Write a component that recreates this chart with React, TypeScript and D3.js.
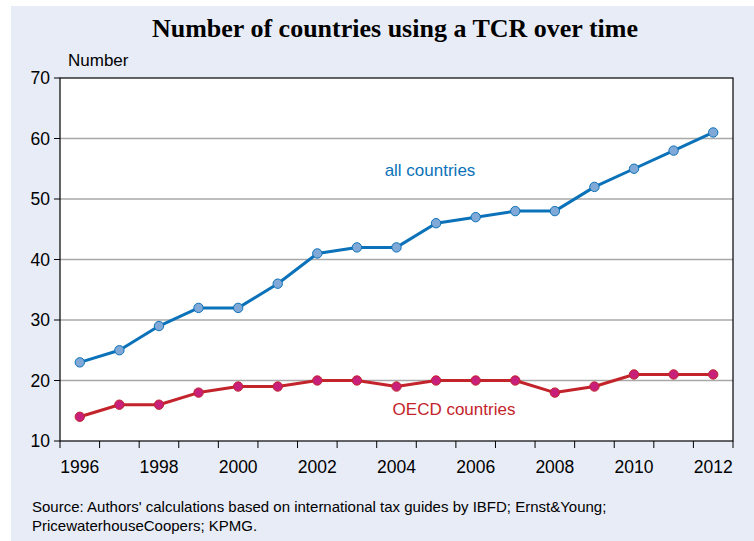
import React from 'react';
import * as d3 from 'd3';

const years = d3.range(1996, 2013).map(String);
const allCountries = [23, 25, 29, 32, 32, 36, 41, 42, 42, 46, 47, 48, 48, 52, 55, 58, 61];
const oecdCountries = [14, 16, 16, 18, 19, 19, 20, 20, 19, 20, 20, 20, 18, 19, 21, 21, 21];
const yTicks = [10, 20, 30, 40, 50, 60, 70];
const xLabels = ['1996', '1998', '2000', '2002', '2004', '2006', '2008', '2010', '2012'];

const W = 754;
const H = 541;
const margin = { top: 78, right: 21, bottom: 100, left: 60 };

export default function App() {
  const x = d3.scaleBand<string>()
    .domain(years)
    .range([margin.left, W - margin.right]);
  const y = d3.scaleLinear()
    .domain([10, 70])
    .range([H - margin.bottom, margin.top]);

  const line = d3.line<number>()
    .x((_, i) => x(years[i])! + x.bandwidth() / 2)
    .y(d => y(d));

  const series = [
    { values: allCountries, stroke: '#0b72b9', fill: '#80a9d7' },
    { values: oecdCountries, stroke: '#c3242b', fill: '#c71f7a' },
  ];

  const font = 'Liberation Sans, Arial, sans-serif';
  const x0 = margin.left;
  const x1 = W - margin.right;
  const yb = H - margin.bottom;

  return (
    <svg width={W} height={H} style={{ position: 'absolute', left: 0, top: 0 }} fontFamily={font}>
      <rect x={0} y={0} width={W} height={H} fill="#fff" />
      <rect x={11} y={6} width={W - 11} height={H - 6} fill="#e8ecf7" />
      <text x={395} y={37} textAnchor="middle" fontFamily="Liberation Serif, Times New Roman, serif"
        fontWeight="bold" fontSize={26}>Number of countries using a TCR over time</text>
      <text x={68} y={66} fontSize={17}>Number</text>

      <rect x={x0} y={margin.top} width={x1 - x0} height={yb - margin.top} fill="#fff" />
      {yTicks.filter(t => t > 10 && t < 70).map(t => (
        <line key={t} x1={x0} x2={x1} y1={y(t)} y2={y(t)} stroke="#a8a8a8" strokeWidth={1.5} />
      ))}
      <rect x={x0} y={margin.top} width={x1 - x0} height={yb - margin.top} fill="none" stroke="#000" strokeWidth={1.2} />

      {yTicks.map(t => (
        <g key={t}>
          <line x1={x0 - 6} x2={x0} y1={y(t)} y2={y(t)} stroke="#000" strokeWidth={1} />
          <text x={50} y={y(t)} dy="0.35em" textAnchor="end" fontSize={17.5}>{t}</text>
        </g>
      ))}

      {years.concat(['end']).map((yr, i) => {
        const px = yr === 'end' ? x1 : x(yr)!;
        return <line key={i} x1={px} x2={px} y1={yb} y2={yb + 7} stroke="#000" strokeWidth={1} />;
      })}
      {xLabels.map(l => (
        <text key={l} x={x(l)! + x.bandwidth() / 2} y={473} textAnchor="middle" fontSize={17.5}>{l}</text>
      ))}

      {series.map((s, si) => (
        <g key={si}>
          <path d={line(s.values)!} fill="none" stroke={s.stroke} strokeWidth={3} strokeLinejoin="round" />
          {s.values.map((v, i) => (
            <circle key={i} cx={x(years[i])! + x.bandwidth() / 2} cy={y(v)} r={4.7}
              fill={s.fill} stroke={s.stroke} strokeWidth={1} />
          ))}
        </g>
      ))}

      <text x={430} y={176} textAnchor="middle" fontSize={17} fill="#0b72b9">all countries</text>
      <text x={454} y={415} textAnchor="middle" fontSize={17} fill="#c3242b">OECD countries</text>

      <text x={32} y={512} fontSize={15}>Source: Authors' calculations based on international tax guides by IBFD; Ernst&amp;Young;</text>
      <text x={32} y={531} fontSize={15}>PricewaterhouseCoopers; KPMG.</text>
    </svg>
  );
}
